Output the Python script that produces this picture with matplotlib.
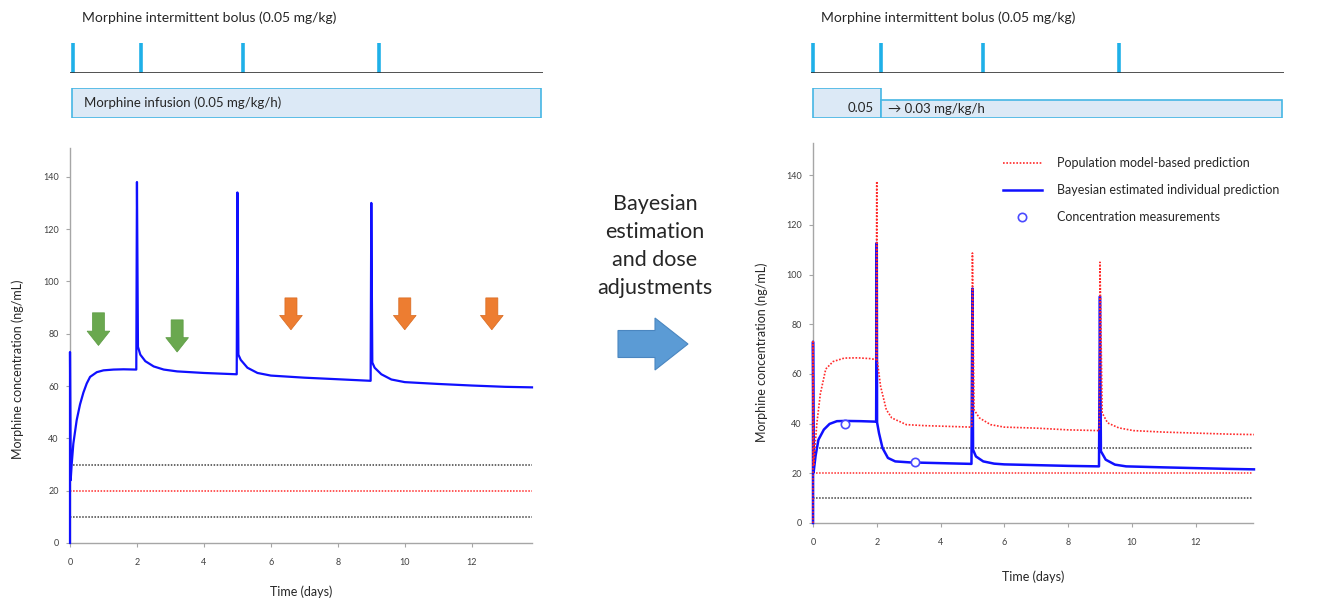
import matplotlib
matplotlib.use('Agg')
import matplotlib.pyplot as plt
from matplotlib.patches import FancyArrow
from matplotlib.lines import Line2D

plt.rcParams['font.family'] = ['Lato', 'DejaVu Sans']

# ---- data ----
bolus_days = [0, 2, 5, 9]
t_end = 13.8

# standard regimen (left panel)
infusion_std_start = [0]
infusion_std_rate = [0.05]
t_std = [0, 0, 0.02, 0.05, 0.1, 0.2, 0.3, 0.4, 0.5, 0.6, 0.8, 1.0, 1.3, 1.6, 1.98,
         2.0, 2.03, 2.1, 2.25, 2.5, 2.8, 3.2, 4.0, 4.98,
         5.0, 5.03, 5.1, 5.3, 5.6, 6.0, 7.0, 8.0, 8.98,
         9.0, 9.03, 9.1, 9.3, 9.6, 10.0, 11.0, 12.0, 13.0, 13.8]
c_std = [0, 73, 24, 30, 38, 47, 53, 57.5, 61, 63.5, 65.3, 66, 66.3, 66.4, 66.3,
         138, 75, 72, 69.5, 67.5, 66.3, 65.6, 65.0, 64.5,
         134, 72, 70, 67, 65, 64, 63.2, 62.6, 62,
         130, 69, 67, 64.5, 62.5, 61.5, 60.8, 60.2, 59.7, 59.5]

# adjusted regimen (right panel)
infusion_adj_start = [0, 2]
infusion_adj_rate = [0.05, 0.03]
t_pop = [0, 0, 0.02, 0.06, 0.12, 0.23, 0.4, 0.63, 0.98, 1.4, 1.78, 1.98,
         2.0, 2.01, 2.12, 2.3, 2.47, 2.93, 3.5, 4.0, 4.98,
         5.0, 5.05, 5.22, 5.57, 6.0, 7.0, 8.0, 8.98,
         9.0, 9.07, 9.24, 9.59, 10.05, 11.0, 12.0, 13.0, 13.83]
c_pop = [0, 73, 23, 30, 40, 52, 62, 65, 66.4, 66.5, 66.2, 65.8,
         137.6, 66, 55, 45.6, 42.3, 39.6, 39.2, 39.0, 38.6,
         108.7, 45.6, 42.3, 39.6, 38.6, 38.2, 37.5, 37.2,
         105, 44.3, 40.3, 38.3, 37.2, 36.6, 36.2, 35.8, 35.6]
t_ind = [0, 0, 0.02, 0.08, 0.17, 0.34, 0.52, 0.75, 1.0, 1.5, 1.98,
         2.0, 2.01, 2.07, 2.18, 2.35, 2.58, 3.04, 4.0, 4.97,
         5.0, 5.02, 5.11, 5.34, 5.68, 6.0, 7.0, 8.0, 8.97,
         9.0, 9.03, 9.18, 9.47, 9.82, 11.0, 12.0, 13.0, 13.83]
c_ind = [0, 73, 20.5, 27, 33.5, 37.6, 39.9, 41, 41.1, 41, 40.8,
         112.8, 40.5, 36.2, 30.2, 26.2, 24.8, 24.4, 24.1, 23.8,
         94.4, 29.5, 26.8, 24.8, 23.9, 23.6, 23.3, 23.0, 22.8,
         91.3, 28.9, 25.5, 23.5, 22.8, 22.4, 22.1, 21.8, 21.6]
t_meas = [1.0, 3.21]
c_meas = [39.9, 24.4]

# target lines
limits_black = [10, 30]
limit_red = [20]

# arrows on left panel (day, top, tip)
green_days = [0.85, 3.2]
green_top = [88, 85.3]
green_tip = [75.5, 73]
orange_days = [6.6, 10.0, 12.6]
orange_top = [93.7, 93.7, 93.7]
orange_tip = [81.5, 81.5, 81.5]

W, H = 1334, 603
fig = plt.figure(figsize=(W / 100, H / 100), dpi=100)


def px_axes(x0, y0, x1, y1):
    # axes from pixel box (top-left origin)
    return fig.add_axes([x0 / W, 1 - y1 / H, (x1 - x0) / W, (y1 - y0) / H])


CYAN = '#1fb0e8'
BOXEDGE = '#45b6e4'
BOXFILL = '#dce9f6'
TXT = '#262626'


def timeline(x0, x1, first_tick_px, starts, rates, texts):
    scale = 34.0
    lo = -(first_tick_px - x0) / scale
    hi = (x1 - first_tick_px) / scale
    # bolus ticks
    axb = px_axes(x0, 43, x1, 73)
    axb.vlines(bolus_days, 0, 1, color=CYAN, lw=2.6)
    axb.axhline(0, color='#333333', lw=1.2)
    axb.set_xlim(lo, hi)
    axb.set_ylim(0, 1)
    axb.axis('off')
    # infusion bars
    axi = px_axes(x0, 88, x1, 118)
    ends = starts[1:] + [hi - 0.05]
    for s, e, r in zip(starts, ends, rates):
        left = lo + 0.05 if s == 0 else s
        axi.bar(left, r, width=e - left, align='edge', color=BOXFILL,
                edgecolor=BOXEDGE, lw=1.2)
    axi.set_xlim(lo, hi)
    axi.set_ylim(0, 0.05)
    axi.axis('off')
    for (xd, yv, s, ha) in texts:
        axi.text(xd, yv, s, ha=ha, va='center', fontsize=9.5, color=TXT)
    return axb


timeline(70, 543, 73, infusion_std_start, infusion_std_rate,
         [(0.32, 0.025, 'Morphine infusion (0.05 mg/kg/h)', 'left')])
timeline(811, 1284, 813, infusion_adj_start, infusion_adj_rate,
         [(1.8, 0.016, '0.05', 'right'),
          (2.2, 0.015, '\u2192 0.03 mg/kg/h', 'left')])

fig.text(82 / W, 1 - 18 / H, 'Morphine intermittent bolus (0.05 mg/kg)',
         fontsize=10, color=TXT, va='center', ha='left')
fig.text(821 / W, 1 - 18 / H, 'Morphine intermittent bolus (0.05 mg/kg)',
         fontsize=10, color=TXT, va='center', ha='left')


def style(ax, ymax, xlab_y, ylab_x, ylab_y):
    ax.set_xlim(0, t_end)
    ax.set_ylim(0, ymax)
    ax.set_xticks(range(0, 13, 2))
    ax.set_yticks(range(0, 141, 20))
    for s in ['top', 'right']:
        ax.spines[s].set_visible(False)
    for s in ['left', 'bottom']:
        ax.spines[s].set_color('#a6a6a6')
        ax.spines[s].set_linewidth(1.0)
    ax.tick_params(labelsize=6.5, colors='#a6a6a6', labelcolor='#404040',
                   length=3, pad=5)
    ax.tick_params(axis='x', pad=8)
    ax.set_xlabel('Time (days)', fontsize=9, color=TXT)
    ax.set_ylabel('Morphine concentration (ng/mL)', fontsize=9, color=TXT)
    ax.xaxis.set_label_coords(0.5, xlab_y)
    ax.xaxis.label.set_va('center')
    ax.yaxis.set_label_coords(ylab_x, ylab_y)
    ax.yaxis.label.set_va('center')
    ax.hlines(limits_black, 0, t_end, colors='#404040', linestyles=(0, (1, 1)), lw=1.1)
    ax.hlines(limit_red, 0, t_end, colors='#ff2a2a', linestyles=(0, (1, 1)), lw=1.1)


# ---- left panel ----
ax1 = px_axes(70, 148, 532, 543)
style(ax1, 151, -0.124, -0.113, 0.44)
ax1.plot(t_std, c_std, color='#1010ff', lw=1.6, zorder=3, clip_on=False)
for d, top, tip in zip(green_days, green_top, green_tip):
    ax1.arrow(d, top, 0, tip - top, width=0.36, head_width=0.68, head_length=5.5,
              length_includes_head=True, color='#6aa84f', ec='#5b9a42', lw=0.5)
for d, top, tip in zip(orange_days, orange_top, orange_tip):
    ax1.arrow(d, top, 0, tip - top, width=0.36, head_width=0.68, head_length=5.5,
              length_includes_head=True, color='#ed7d31', ec='#d86a20', lw=0.5)

# ---- right panel ----
ax2 = px_axes(813, 143, 1253, 523)
style(ax2, 153, -0.142, -0.116, 0.45)
ax2.plot(t_ind, c_ind, color='#1010ff', lw=1.8, zorder=3, clip_on=False)
ax2.plot(t_pop, c_pop, color='#ff2a2a', lw=1.2, ls=(0, (1, 1)), zorder=3.1, clip_on=False)
ax2.plot(t_meas, c_meas, 'o', mfc='white', mec='#4a4aff', mew=1.2, ms=6, zorder=4)

handles = [Line2D([], [], color='#ff2a2a', lw=1.2, ls=(0, (1, 1))),
           Line2D([], [], color='#1010ff', lw=1.8),
           Line2D([], [], ls='none', marker='o', mfc='white', mec='#4a4aff', mew=1.2, ms=6)]
labels = ['Population model-based prediction',
          'Bayesian estimated individual prediction',
          'Concentration measurements']
fig.legend(handles, labels, loc='upper left', bbox_to_anchor=(1003 / W, 1 - 157 / H),
           frameon=False, fontsize=9, handlelength=3.1, handletextpad=1.2,
           labelspacing=1.2, borderpad=0, borderaxespad=0, labelcolor=TXT)

# ---- middle: text and block arrow ----
fig.text(655 / W, 1 - 246 / H, 'Bayesian\nestimation\nand dose\nadjustments',
         ha='center', va='center', fontsize=15.5, linespacing=1.5, color=TXT)
fig.patches.append(FancyArrow(618 / W, 1 - 344 / H, 70 / W, 0,
                              width=27 / H, head_width=52 / H, head_length=33 / W,
                              length_includes_head=True, transform=fig.transFigure,
                              fc='#5b9bd5', ec='#4a86c0', lw=0.8))

plt.savefig('out.png', dpi=100)
